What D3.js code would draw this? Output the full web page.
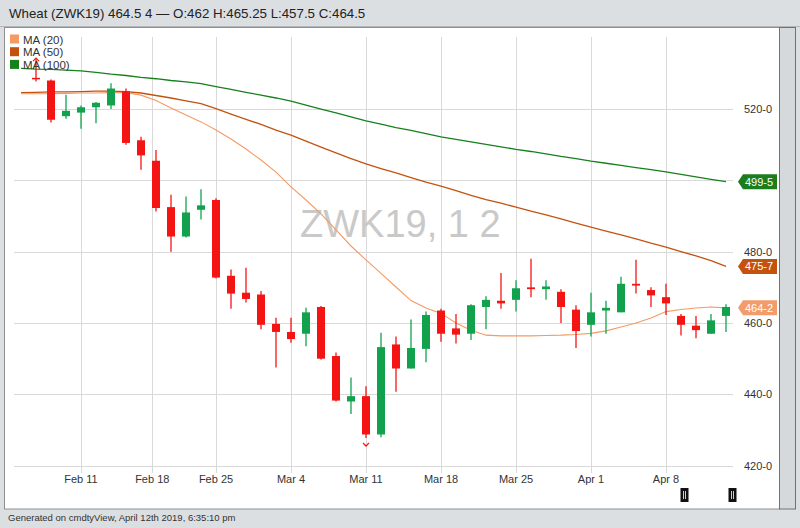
<!DOCTYPE html>
<html><head><meta charset="utf-8">
<script src="https://cdn.jsdelivr.net/npm/d3@7/dist/d3.min.js"></script>
<style>
html,body{margin:0;padding:0;background:#dcdfe2;}
svg{display:block;font-family:"Liberation Sans",Arial,Helvetica,sans-serif;}
</style></head>
<body>
<svg id="c" width="800" height="528"></svg>
<script>
// ---- data ----
const titleText = "Wheat (ZWK19) 464.5 4 \u2014 O:462 H:465.25 L:457.5 C:464.5";
const footerText = "Generated on cmdtyView, April 12th 2019, 6:35:10 pm";
const watermark = "ZWK19, 1 2";
const dates = ["2019-02-05","2019-02-06","2019-02-07","2019-02-08","2019-02-11","2019-02-12","2019-02-13","2019-02-14","2019-02-15",
"2019-02-19","2019-02-20","2019-02-21","2019-02-22","2019-02-25","2019-02-26","2019-02-27","2019-02-28","2019-03-01",
"2019-03-04","2019-03-05","2019-03-06","2019-03-07","2019-03-08","2019-03-11","2019-03-12","2019-03-13","2019-03-14","2019-03-15",
"2019-03-18","2019-03-19","2019-03-20","2019-03-21","2019-03-22","2019-03-25","2019-03-26","2019-03-27","2019-03-28","2019-03-29",
"2019-04-01","2019-04-02","2019-04-03","2019-04-04","2019-04-05","2019-04-08","2019-04-09","2019-04-10","2019-04-11","2019-04-12"];
// candles (first date has no visible candle)
const open  = [null,528.75,528,518,519,520.5,521,525,511.25,505.5,492.5,484.25,491.75,494.5,473.25,468.5,468,459.75,457.5,457,464.5,450.75,438,439.5,428.75,454,447.25,452.75,463.5,458.5,457,464.5,466.25,466.5,470,469.5,468.75,463.75,459.5,463.5,463,471,469.25,467.25,462,459.25,457,462];
const high  = [null,534,528.25,524,521,522,527.25,525.75,512.25,508.5,496,495.5,497.5,495,475,475.5,469,461.5,461.5,464.25,464.75,451.75,444.75,442.25,457.25,456.25,461,463.25,464,462.5,465.25,467.5,474,472,478,472,469.5,465,468.5,466.25,473,477.75,470,471,462.5,462,462.5,465.25];
const low   = [null,527.75,516.25,517.25,514.5,516,520,510,503,491.25,480,484,489,472.5,464,465.75,458.25,447.5,454.5,453.5,449.75,438,434.5,427.75,428,440.75,447.25,449,454.75,454.25,455.25,458.25,464,463.25,467.25,466.5,460,453,456.25,457,463,468.25,464.5,462.25,456.5,455.75,457,457.5];
const close = [null,528.5,517,519.5,520.5,521.75,525.75,510.5,507,492.25,484.25,491,493,472.75,468.25,466.75,459.5,457.5,455.5,463,450,438.25,439.5,428.75,453.25,447.25,453,462.25,457,456.75,465,466.5,465.5,469.75,469.5,470.25,464.5,457.75,463,464.25,471,470.5,467.75,465.5,459.5,458,460.75,464.5];
// moving averages
const ma20  = [524.3,524.3,524.3,524.4,524.5,524.5,524.6,524.6,523.9,522.4,520.3,518.3,516.4,514.1,511.6,508.8,505.7,502.3,498.2,494.5,490.6,486.1,481.6,477.7,473.9,470.1,466.3,464.2,462.7,460.0,458.0,456.6,456.4,456.4,456.4,456.5,456.6,456.8,457.1,457.8,458.9,460.0,461.4,463.2,463.8,464.2,464.5,464.25];
const ma50  = [524.6,524.7,524.8,524.8,524.9,525.0,525.0,524.9,524.5,523.8,523.1,522.3,521.5,520.1,518.6,517.1,515.7,514.1,512.7,511.0,509.3,507.7,506.1,504.6,503.3,502.1,500.8,499.5,498.4,497.1,495.8,494.6,493.6,492.5,491.4,490.3,489.2,488.0,486.9,485.8,484.7,483.6,482.4,481.3,480.0,478.8,477.5,475.875];
const ma100 = [531.4,531.2,531.1,530.9,530.7,530.3,529.8,529.4,528.9,528.5,528.0,527.6,527.1,526.3,525.5,524.7,523.9,523.1,522.2,521.1,520.0,518.9,517.8,516.7,515.8,514.8,514.0,513.1,512.2,511.5,510.8,510.1,509.4,508.7,508.1,507.4,506.7,506.1,505.4,504.8,504.2,503.6,503.0,502.4,501.7,501.0,500.3,499.625];
const maNames  = ["MA (20)","MA (50)","MA (100)"];
const maColors = ["#f49a63","#c4520f","#16801c"];
const tagColors= ["#f39c6b","#c4520f","#1b7d1b"];
const yTicks = [420,440,460,480,500,520];
const xTickDates  = ["2019-02-11","2019-02-18","2019-02-25","2019-03-04","2019-03-11","2019-03-18","2019-03-25","2019-04-01","2019-04-08"];
const xTickLabels = ["Feb 11","Feb 18","Feb 25","Mar 4","Mar 11","Mar 18","Mar 25","Apr 1","Apr 8"];

// ---- layout ----
const svg = d3.select("#c");
const P = {l:14, r:733, t:37, b:473};
const x = d3.scaleLinear().domain([-0.5, dates.length - 0.5]).range([13.5, 733.5]);
const y = d3.scaleLinear().domain([417.95, 540.2]).range([P.b, P.t]);
const fmt8 = v => { const w = Math.floor(v + 1e-9); return w + "-" + Math.round((v - w) * 8); };
const UP = "#12a24e", DN = "#f51414";

// background pieces
svg.append("rect").attr("x",0).attr("y",0).attr("width",800).attr("height",528).attr("fill","#dcdfe2");
svg.append("text").attr("x",9).attr("y",18).attr("font-size",13.3).attr("fill","#222").text(titleText);
svg.append("line").attr("x1",0).attr("x2",800).attr("y1",26.5).attr("y2",26.5).attr("stroke","#b4b7ba");
svg.append("rect").attr("x",4.5).attr("y",27.5).attr("width",775).attr("height",481.5).attr("fill","#fff").attr("stroke","#8c9094").attr("stroke-width",1);
svg.append("rect").attr("x",779.5).attr("y",27.5).attr("width",16).attr("height",481.5).attr("fill","#d6d9dc").attr("stroke","#6e7276").attr("stroke-width",1);
svg.append("text").attr("x",8).attr("y",521).attr("font-size",9.5).attr("fill","#333").text(footerText);

// grid
const g = svg.append("g");
g.selectAll("line.h").data(yTicks).join("line")
  .attr("x1",P.l).attr("x2",P.r).attr("y1",d=>Math.round(y(d))+0.5).attr("y2",d=>Math.round(y(d))+0.5)
  .attr("stroke","#d9d9d9").attr("stroke-width",1);
const parse = d3.timeParse("%Y-%m-%d");
const dateIdx = ds => {
  const i = dates.indexOf(ds);
  if (i >= 0) return i;
  const t = parse(ds);
  const j = dates.findIndex(d => parse(d) > t);
  return j - 0.25;
};
const xTicks = xTickDates.map((d,i)=>({x: x(dateIdx(d)), label: xTickLabels[i]}));
g.selectAll("line.v").data(xTicks).join("line")
  .attr("x1",d=>Math.round(d.x)+0.5).attr("x2",d=>Math.round(d.x)+0.5).attr("y1",P.t).attr("y2",P.b)
  .attr("stroke","#d9d9d9").attr("stroke-width",1);

// watermark
svg.append("text").attr("x",300).attr("y",236.5).attr("font-size",38).attr("fill","#c9c9c9").text(watermark);

// axes labels
svg.append("g").selectAll("text").data(xTicks).join("text")
  .attr("x",d=>d.x).attr("y",483).attr("text-anchor","middle").attr("font-size",11).attr("fill","#333").text(d=>d.label);
svg.append("g").selectAll("text").data(yTicks).join("text")
  .attr("x",744).attr("y",d=>y(d)+4).attr("font-size",11).attr("fill","#333").text(d=>fmt8(d));

// MA lines
const mas = [ma20, ma50, ma100];
const line = d3.line().x((d,i)=>x(i)).y(d=>y(d));
[2,1,0].forEach(k=>{
  svg.append("path").attr("d", line(mas[k])).attr("fill","none")
    .attr("stroke", maColors[k]).attr("stroke-width", k===0?1.1:1.3);
});

// candles
const candles = dates.map((d,i)=>({i, o:open[i], h:high[i], l:low[i], c:close[i]})).filter(d=>d.o!==null);
const cg = svg.append("g");
cg.selectAll("line").data(candles).join("line")
  .attr("x1",d=>x(d.i)).attr("x2",d=>x(d.i)).attr("y1",d=>y(d.h)).attr("y2",d=>y(d.l))
  .attr("stroke",d=>d.c>=d.o?UP:DN).attr("stroke-width",1.3);
cg.selectAll("rect").data(candles).join("rect")
  .attr("x",d=>x(d.i)-4).attr("width",8)
  .attr("y",d=>y(Math.max(d.o,d.c)))
  .attr("height",d=>Math.max(1.5, Math.abs(y(d.o)-y(d.c))))
  .attr("fill",d=>d.c>=d.o?UP:DN);

// high / low markers
const hi = candles.reduce((a,b)=>b.h>a.h?b:a), lo = candles.reduce((a,b)=>b.l<a.l?b:a);
const chev = (cx, cy, dir) => `M${cx-3},${cy+3*dir}L${cx},${cy}L${cx+3},${cy+3*dir}`;
svg.append("path").attr("d", chev(x(hi.i), y(hi.h)-1, 1)).attr("fill","none").attr("stroke",DN).attr("stroke-width",1.2);
svg.append("path").attr("d", chev(x(lo.i), y(lo.l)+8, -1)).attr("fill","none").attr("stroke",DN).attr("stroke-width",1.2);

// legend
const lg = svg.append("g");
maNames.forEach((n,k)=>{
  const ty = 34.5 + k*12.7;
  lg.append("rect").attr("x",10).attr("y",ty).attr("width",9).attr("height",9).attr("fill",maColors[k]);
  lg.append("text").attr("x",23).attr("y",ty+9).attr("font-size",11.5).attr("fill","#333").text(n);
});

// last value tags
mas.forEach((m,k)=>{
  const v = m[m.length-1], yc = y(v);
  svg.append("path").attr("d",`M738,${yc}L743,${yc-7.5}L777,${yc-7.5}L777,${yc+7.5}L743,${yc+7.5}Z`).attr("fill",tagColors[k]);
  svg.append("text").attr("x",745).attr("y",yc+4).attr("font-size",11).attr("fill","#fff").text(fmt8(v));
});

// range handles
[684.5, 732.5].forEach(cx=>{
  svg.append("rect").attr("x",cx-4).attr("y",488).attr("width",8).attr("height",14).attr("fill","#111");
  [-1,1].forEach(o=>svg.append("line").attr("x1",cx+o).attr("x2",cx+o).attr("y1",491).attr("y2",499).attr("stroke","#fff").attr("stroke-width",0.8));
});
</script>
</body></html>
